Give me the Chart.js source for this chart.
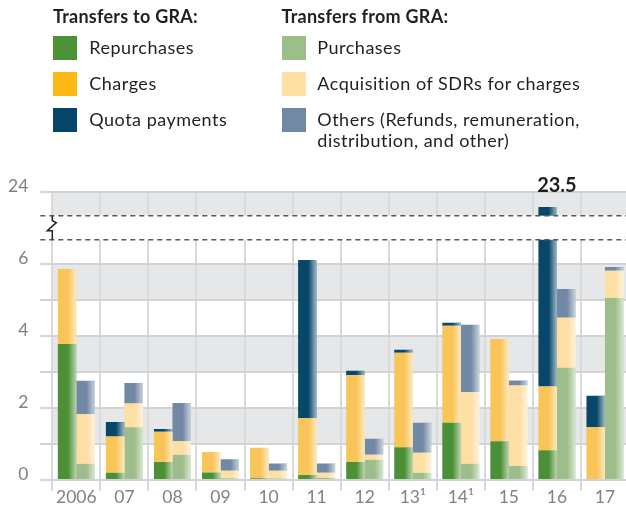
<!DOCTYPE html>
<html>
<head>
<meta charset="utf-8">
<script src="https://cdn.jsdelivr.net/npm/chart.js@4"></script>
<style>
  html, body { margin: 0; padding: 0; background: #fff; }
  #wrap { position: relative; width: 626px; height: 508px; overflow: hidden; font-family: Lato, "Noto Sans", sans-serif; color: #231f20; }
  #chartBox { position: absolute; left: 0; top: 0; width: 630px; height: 508px; }
  .hdr { position: absolute; font-weight: bold; font-size: 18px; letter-spacing: 0.25px; line-height: 20px; white-space: nowrap; }
  .sw { position: absolute; width: 24px; height: 24px; }
  .lt { position: absolute; font-size: 18px; letter-spacing: 0.5px; line-height: 20.7px; white-space: nowrap; }
</style>
</head>
<body>
<div id="wrap">
  <div id="chartBox"><canvas id="c" width="630" height="508"></canvas></div>
  <div id="legend"></div>
</div>
<script>
// ---------------- data ----------------
const years = ['2006', '07', '08', '09', '10', '11', '12', '13\u00B9', '14\u00B9', '15', '16', '17'];
const repurchases   = [3.78, 0.20, 0.50, 0.21, 0.05, 0.14, 0.50, 0.91, 1.59, 1.08, 0.83, 0.00];
const charges       = [2.09, 1.01, 0.84, 0.57, 0.85, 1.58, 2.41, 2.63, 2.70, 2.84, 1.77, 1.47];
const quotaPayments = [0.00, 0.40, 0.08, 0.00, 0.00, 4.40, 0.13, 0.08, 0.08, 0.00, 20.90, 0.87];
const purchases     = [0.45, 1.47, 0.70, 0.05, 0.04, 0.06, 0.56, 0.20, 0.45, 0.39, 3.12, 5.06];
const acquisition   = [1.38, 0.66, 0.38, 0.21, 0.22, 0.14, 0.14, 0.56, 2.00, 2.24, 1.39, 0.76];
const others        = [0.93, 0.57, 1.06, 0.32, 0.20, 0.26, 0.45, 0.83, 1.87, 0.14, 0.80, 0.10];
const yTickValues   = [0, 1, 2, 3, 4, 5, 6, 24];
const yTickLabelled = [0, 2, 4, 6, 24];
const groupTitles   = ['Transfers to GRA:', 'Transfers from GRA:'];

// ---------------- axis break ----------------
const BREAK_LOW = 6.68;     // real value where the lower part stops
const BREAK_HIGH = 23.2;    // real value where the upper part resumes
const DISP_GAP_TOP = 7.35;  // display units where upper part starts
const DISP_MAX = 8;         // display units of axis top (real 24)
const REAL_MAX = 24;
function toDisplay(v) {
  if (v <= BREAK_LOW) return v;
  if (v >= BREAK_HIGH) return DISP_GAP_TOP + (v - BREAK_HIGH) * (DISP_MAX - DISP_GAP_TOP) / (REAL_MAX - BREAK_HIGH);
  return BREAK_LOW + (v - BREAK_LOW) / (BREAK_HIGH - BREAK_LOW) * (DISP_GAP_TOP - BREAK_LOW);
}
class BrokenScale extends Chart.LinearScale {
  buildTicks() { return yTickValues.map(v => ({ value: v })); }
  getPixelForValue(value) {
    if (value === null || value === undefined || isNaN(value)) return NaN;
    return this.getPixelForDecimal(toDisplay(value) / DISP_MAX);
  }
}
BrokenScale.id = 'broken';
BrokenScale.defaults = Chart.LinearScale.defaults;
Chart.register(BrokenScale);

// ---------------- styles ----------------
const series = [
  { label: 'Repurchases', data: repurchases, stack: 'to', bar: '#4b9036', swatch: '#4b9136' },
  { label: 'Charges', data: charges, stack: 'to', bar: '#f9c558', swatch: '#fdb913' },
  { label: 'Quota payments', data: quotaPayments, stack: 'to', bar: '#07476a', swatch: '#06466a' },
  { label: 'Purchases', data: purchases, stack: 'from', bar: '#9dbe8a', swatch: '#9dbe8a' },
  { label: 'Acquisition of SDRs for charges', data: acquisition, stack: 'from', bar: '#fddea3', swatch: '#fedfa4' },
  { label: 'Others (Refunds, remuneration,\ndistribution, and other)', data: others, stack: 'from', bar: '#7289a6', swatch: '#7289a6' }
];

// ---------------- legend (HTML) ----------------
(function buildLegend() {
  const lg = document.getElementById('legend');
  const colX = [53, 281.5];
  const textX = [89.3, 317.3];
  groupTitles.forEach((t, i) => {
    const d = document.createElement('div');
    d.className = 'hdr'; d.textContent = t;
    d.style.left = colX[i] + 'px'; d.style.top = '5.6px';
    lg.appendChild(d);
  });
  series.forEach((s, k) => {
    const col = s.stack === 'to' ? 0 : 1;
    const row = col === 0 ? k : k - 3;
    const top = 36 + row * 36;
    const sw = document.createElement('div');
    sw.className = 'sw'; sw.style.background = s.swatch;
    sw.style.left = colX[col] + 'px'; sw.style.top = top + 'px';
    lg.appendChild(sw);
    const tx = document.createElement('div');
    tx.className = 'lt';
    tx.style.left = textX[col] + 'px'; tx.style.top = (top + 1.2) + 'px';
    s.label.split('\n').forEach((line, j) => {
      if (j) tx.appendChild(document.createElement('br'));
      tx.appendChild(document.createTextNode(line));
    });
    lg.appendChild(tx);
  });
})();

// ---------------- plugins ----------------
const bandPlugin = {
  id: 'bands',
  beforeDraw(chart) {
    const { ctx, chartArea: a } = chart;
    const y = chart.scales.y;
    ctx.save();
    ctx.fillStyle = '#e6e7e8';
    [[1, 2], [3, 4], [5, 6], [BREAK_HIGH, REAL_MAX]].forEach(([lo, hi]) => {
      const p1 = y.getPixelForValue(hi), p0 = y.getPixelForValue(lo);
      ctx.fillRect(a.left, p1, a.right - a.left, p0 - p1);
    });
    ctx.restore();
  }
};

const overlayPlugin = {
  id: 'overlay',
  afterDatasetsDraw(chart) {
    const { ctx, chartArea: a } = chart;
    const y = chart.scales.y, x = chart.scales.x;
    ctx.save();
    // bar shading toward the right edge
    chart.data.datasets.forEach((ds, di) => {
      const meta = chart.getDatasetMeta(di);
      meta.data.forEach(el => {
        const p = el.getProps(['x', 'y', 'base', 'width'], true);
        const h = p.base - p.y;
        if (!(h > 0)) return;
        const left = p.x - p.width / 2;
        const g = ctx.createLinearGradient(left, 0, left + p.width, 0);
        g.addColorStop(0, 'rgba(255,255,255,0)');
        g.addColorStop(0.55, 'rgba(255,255,255,0)');
        g.addColorStop(1, 'rgba(255,255,255,0.62)');
        ctx.fillStyle = g;
        ctx.fillRect(left, p.y, p.width, h);
      });
    });
    // axis break gap
    const yTop = y.getPixelForValue(BREAK_HIGH);
    const yBot = y.getPixelForValue(BREAK_LOW);
    ctx.fillStyle = '#ffffff';
    ctx.fillRect(a.left - 14, yTop, chart.width, yBot - yTop);
    ctx.strokeStyle = '#58595b';
    ctx.lineWidth = 1.6;
    ctx.setLineDash([5, 4]);
    [yTop, yBot].forEach(py => {
      ctx.beginPath();
      ctx.moveTo(a.left - 12, py);
      ctx.lineTo(chart.width, py);
      ctx.stroke();
    });
    ctx.setLineDash([]);
    // break symbol
    const bx = a.left;
    ctx.strokeStyle = '#231f20';
    ctx.lineWidth = 1.5;
    ctx.beginPath();
    ctx.moveTo(bx, yTop);
    ctx.lineTo(bx, yTop + 5);
    ctx.lineTo(bx + 4, yTop + 7);
    ctx.lineTo(bx - 5, yTop + 15);
    ctx.lineTo(bx, yTop + 15);
    ctx.lineTo(bx, yBot);
    ctx.stroke();
    // total label for the bar that crosses the break
    years.forEach((yr, i) => {
      const total = repurchases[i] + charges[i] + quotaPayments[i];
      if (total > BREAK_LOW) {
        const topPx = y.getPixelForValue(total);
        ctx.fillStyle = '#231f20';
        ctx.font = 'bold 20px Lato, "Noto Sans", sans-serif';
        ctx.textAlign = 'center';
        ctx.textBaseline = 'alphabetic';
        ctx.fillText(total.toFixed(1), x.getPixelForValue(i), topPx - 15);
      }
    });
    ctx.restore();
  }
};

// ---------------- chart ----------------
new Chart(document.getElementById('c'), {
  type: 'bar',
  data: {
    labels: years,
    datasets: series.map(s => ({
      label: s.label,
      data: s.data,
      stack: s.stack,
      backgroundColor: s.bar,
      borderWidth: 0,
      categoryPercentage: 0.77,
      barPercentage: 1.0
    }))
  },
  options: {
    responsive: false,
    animation: false,
    events: [],
    layout: { padding: { top: 192.3, right: 1, left: 0, bottom: 0 } },
    plugins: { legend: { display: false }, tooltip: { enabled: false } },
    scales: {
      x: {
        stacked: true,
        offset: true,
        grid: { offset: true, color: '#d9dadb', lineWidth: 2, tickLength: 11, drawTicks: true },
        border: { display: false },
        ticks: { color: '#808285', font: { family: 'Lato, "Noto Sans", sans-serif', size: 17.5 }, padding: -4, maxRotation: 0, autoSkip: false },
        afterFit(s) { s.height = 28; }
      },
      y: {
        type: 'broken',
        stacked: true,
        min: 0,
        max: REAL_MAX,
        grid: { color: '#d1d3d4', lineWidth: 2, tickLength: 12, drawTicks: true },
        border: { display: false },
        ticks: {
          autoSkip: false,
          color: '#808285',
          font: { family: 'Lato, "Noto Sans", sans-serif', size: 17.5 },
          padding: 12,
          labelOffset: -6,
          callback: v => (yTickLabelled.includes(v) ? String(v) : '')
        },
        afterFit(s) { s.width = 52.3; }
      }
    }
  },
  plugins: [bandPlugin, overlayPlugin]
});
</script>
</body>
</html>
